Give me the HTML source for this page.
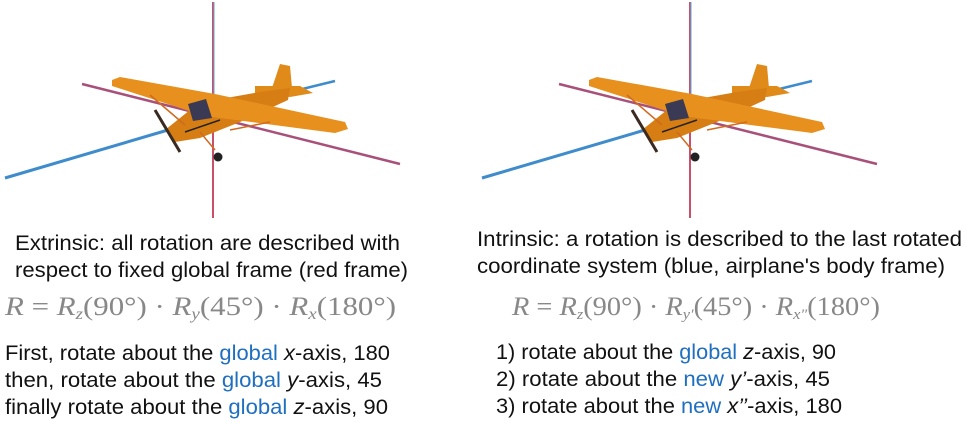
<!DOCTYPE html>
<html><head><meta charset="utf-8"><style>
html,body{margin:0;padding:0;background:#fff;}
svg{display:block;}
text{font-family:"Liberation Sans",sans-serif;font-size:21px;fill:#111;}
.m{font-family:"Liberation Serif",serif;font-size:26px;fill:#888;}
.b{fill:#1f6fc0;}
</style></head><body>
<svg width="967" height="422" viewBox="0 0 967 422">
<defs>
<g id="plane">
  <line x1="213" y1="2" x2="213" y2="218" stroke="#c8506a" stroke-width="2"/>
  <line x1="214" y1="2" x2="214" y2="100" stroke="#5aa8d8" stroke-width="1"/>
  <line x1="82" y1="84" x2="400" y2="164" stroke="#a8507a" stroke-width="2.5"/>
  <line x1="5" y1="178" x2="168" y2="130" stroke="#3f8ccc" stroke-width="3"/>
  <line x1="290" y1="92" x2="335" y2="81" stroke="#3f8ccc" stroke-width="2.5"/>
  <polygon points="255,86 300,86 313,93 290,97 255,93" fill="#e08a1a"/>
  <polygon points="272,88 280,64 290,66 292,88" fill="#e08a1a"/>
  <polygon points="165,130 190,110 215,100 260,92 290,88 288,100 240,122 200,138 175,142" fill="#d67d14"/>
  <polygon points="112,80 120,77 215,94 345,122 348,129 335,133 205,116 112,86" fill="#e8901e"/>
  <polygon points="188,104 206,99 212,118 193,121" fill="#3a3a55"/>
  <line x1="185" y1="132" x2="220" y2="120" stroke="#222" stroke-width="1.5"/>
  <line x1="155" y1="110" x2="180" y2="152" stroke="#3a2a20" stroke-width="3"/>
  <circle cx="218" cy="157" r="4.5" fill="#222"/>
  <line x1="150" y1="95" x2="185" y2="125" stroke="#d06a20" stroke-width="1.5"/>
  <line x1="200" y1="132" x2="215" y2="150" stroke="#d06a20" stroke-width="1.5"/>
  <line x1="230" y1="130" x2="270" y2="122" stroke="#d06a20" stroke-width="1.5"/>
</g>
</defs>
<use href="#plane"/>
<use href="#plane" transform="translate(477,0)"/>

<text x="15" y="250" textLength="385" lengthAdjust="spacingAndGlyphs">Extrinsic: all rotation are described with</text>
<text x="15" y="277" textLength="393" lengthAdjust="spacingAndGlyphs">respect to fixed global frame (red frame)</text>
<text class="m" x="5" y="315" textLength="391" lengthAdjust="spacingAndGlyphs"><tspan font-style="italic">R</tspan> = <tspan font-style="italic">R<tspan font-size="16" dy="4">z</tspan></tspan><tspan dy="-4">(90°) · </tspan><tspan font-style="italic">R<tspan font-size="16" dy="4">y</tspan></tspan><tspan dy="-4">(45°) · </tspan><tspan font-style="italic">R<tspan font-size="16" dy="4">x</tspan></tspan><tspan dy="-4">(180°)</tspan></text>
<text x="5" y="360" textLength="385" lengthAdjust="spacingAndGlyphs">First, rotate about the <tspan class="b">global</tspan> <tspan font-style="italic">x</tspan>-axis, 180</text>
<text x="5" y="387" textLength="377" lengthAdjust="spacingAndGlyphs">then, rotate about the <tspan class="b">global</tspan> <tspan font-style="italic">y</tspan>-axis, 45</text>
<text x="5" y="414" textLength="383" lengthAdjust="spacingAndGlyphs">finally rotate about the <tspan class="b">global</tspan> <tspan font-style="italic">z</tspan>-axis, 90</text>

<text x="477" y="246" textLength="485" lengthAdjust="spacingAndGlyphs">Intrinsic: a rotation is described to the last rotated</text>
<text x="477" y="273" textLength="468" lengthAdjust="spacingAndGlyphs">coordinate system (blue, airplane's body frame)</text>
<text class="m" x="512" y="315" textLength="368" lengthAdjust="spacingAndGlyphs" font-size="24"><tspan font-style="italic">R</tspan> = <tspan font-style="italic">R<tspan font-size="15" dy="4">z</tspan></tspan><tspan dy="-4">(90°) · </tspan><tspan font-style="italic">R<tspan font-size="15" dy="4">y′</tspan></tspan><tspan dy="-4">(45°) · </tspan><tspan font-style="italic">R<tspan font-size="15" dy="4">x″</tspan></tspan><tspan dy="-4">(180°)</tspan></text>
<text x="496" y="359" textLength="340" lengthAdjust="spacingAndGlyphs">1) rotate about the <tspan class="b">global</tspan> <tspan font-style="italic">z</tspan>-axis, 90</text>
<text x="496" y="386" textLength="334" lengthAdjust="spacingAndGlyphs">2) rotate about the <tspan class="b">new</tspan> <tspan font-style="italic">y’</tspan>-axis, 45</text>
<text x="496" y="413" textLength="346" lengthAdjust="spacingAndGlyphs">3) rotate about the <tspan class="b">new</tspan> <tspan font-style="italic">x’’</tspan>-axis, 180</text>
</svg>
</body></html>
